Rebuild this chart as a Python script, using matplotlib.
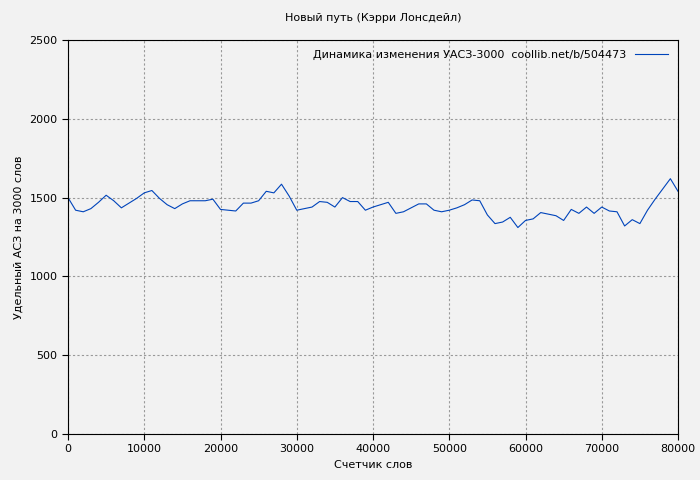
import matplotlib
matplotlib.use('Agg')
import matplotlib.pyplot as plt

words = list(range(0, 81000, 1000))
uas = [1500, 1420, 1410, 1430, 1470, 1515, 1480, 1435, 1465, 1495,
       1530, 1545, 1495, 1455, 1430, 1460, 1480, 1480, 1480, 1490,
       1425, 1420, 1415, 1465, 1465, 1480, 1540, 1530, 1585, 1510,
       1420, 1430, 1440, 1475, 1470, 1440, 1500, 1475, 1475, 1420,
       1440, 1455, 1470, 1400, 1410, 1435, 1460, 1460, 1420, 1410,
       1420, 1435, 1455, 1485, 1480, 1390, 1335, 1345, 1375, 1310,
       1355, 1365, 1405, 1395, 1385, 1355, 1425, 1400, 1440, 1400,
       1440, 1415, 1410, 1320, 1360, 1335, 1420, 1490, 1555, 1620,
       1540]

fig = plt.figure(figsize=(7, 4.8), dpi=100, facecolor='#f2f2f2')
ax = fig.add_axes([68/700, 46/480, 610/700, 394/480])
ax.set_facecolor('#f2f2f2')
ax.plot(words, uas, color='#0044bb', lw=0.8,
        label='Динамика изменения УАСЗ-3000  coollib.net/b/504473')
ax.set_xlim(0, 80000)
ax.set_ylim(0, 2500)
ax.set_xticks(range(0, 80001, 10000))
ax.set_yticks(range(0, 2501, 500))
ax.grid(True, color='#999999', ls=(0, (2, 2)), lw=0.8)
ax.tick_params(labelsize=8, direction='out', length=4)
ax.set_title('Новый путь (Кэрри Лонсдейл)', fontsize=8, pad=14)
ax.set_xlabel('Счетчик слов', fontsize=8)
ax.set_ylabel('Удельный АСЗ на 3000 слов', fontsize=8)
leg = ax.legend(loc='upper right', fontsize=8, frameon=False, markerfirst=False,
                handlelength=3)
fig.savefig('out.png', facecolor=fig.get_facecolor())
